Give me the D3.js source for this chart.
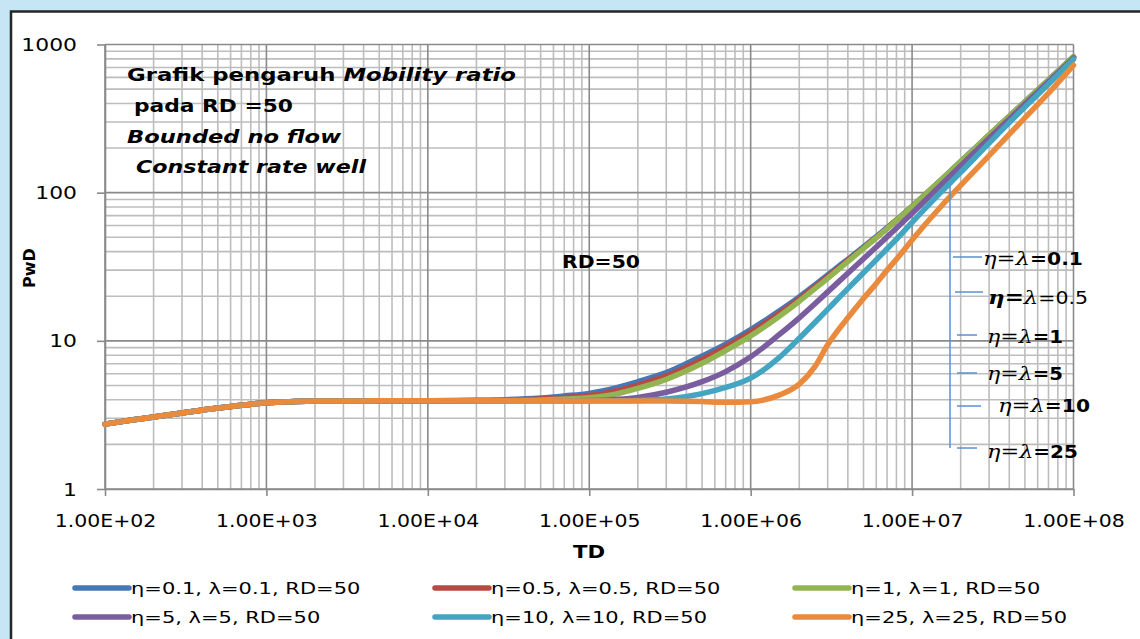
<!DOCTYPE html>
<head>
  <meta charset="utf-8">
  <script src="https://d3js.org/d3.v7.min.js"></script>
  <style>
    body { margin: 0; background: #c6e6f6; }
    svg { display: block; }
  </style>
</head>

<body>
<script type='text/javascript'>

  // dimensionless time grid shared by all series
  var td = [1e2, 1.5e2, 2e2, 3e2, 5e2, 7e2, 1e3, 1.5e3, 2e3, 3e3, 5e3, 1e4, 2e4, 3e4, 5e4, 7e4,
            1e5, 1.5e5, 2e5, 3e5, 5e5, 7e5, 1e6, 1.5e6, 2e6, 2.5e6, 3e6, 3.5e6, 4e6, 5e6, 6e6,
            7e6, 8e6, 1e7, 1.5e7, 2e7, 3e7, 5e7, 7e7, 1e8];

  // PwD, one array per eta = lambda
  var pwdEta01 = [2.74, 2.93, 3.06, 3.26, 3.52, 3.68, 3.82, 3.89, 3.92, 3.93, 3.935, 3.94, 3.97, 4.01, 4.12, 4.25,
                  4.42, 4.85, 5.3, 6.1, 7.9, 9.5, 11.9, 15.9, 19.8, 23.8, 27.8, 31.8, 35.5, 43, 50.5,
                  58, 65.5, 81, 121, 162, 245, 410, 575, 825];
  var pwdEta05 = [2.74, 2.93, 3.06, 3.26, 3.52, 3.68, 3.82, 3.89, 3.92, 3.93, 3.935, 3.94, 3.95, 3.97, 4.05, 4.14,
                  4.27, 4.6, 5.03, 5.8, 7.5, 9.1, 11.4, 15.3, 19.2, 23.2, 27.1, 31.1, 34.9, 42.4, 50,
                  57.5, 65, 80.5, 120.5, 161, 244, 409, 574, 824];
  var pwdEta1 = [2.74, 2.93, 3.06, 3.26, 3.52, 3.68, 3.82, 3.89, 3.92, 3.93, 3.935, 3.94, 3.94, 3.95, 3.99, 4.05,
                 4.13, 4.4, 4.78, 5.5, 7.05, 8.6, 10.8, 14.6, 18.5, 22.5, 26.4, 30.4, 34.3, 42, 49.6,
                 57.3, 65, 80.5, 121, 162, 245, 410, 575, 826];
  var pwdEta5 = [2.74, 2.93, 3.06, 3.26, 3.52, 3.68, 3.82, 3.89, 3.92, 3.93, 3.935, 3.94, 3.94, 3.94, 3.94, 3.94,
                 3.95, 4.03, 4.15, 4.5, 5.3, 6.2, 7.8, 11, 14.3, 17.8, 21.4, 25, 28.6, 35.8, 43,
                 50.3, 57.6, 72.5, 112, 152, 233, 396, 560, 812];
  var pwdEta10 = [2.74, 2.93, 3.06, 3.26, 3.52, 3.68, 3.82, 3.89, 3.92, 3.93, 3.935, 3.94, 3.94, 3.94, 3.94, 3.94,
                  3.94, 3.94, 3.96, 4.05, 4.4, 4.85, 5.6, 7.7, 10.4, 13.3, 16.3, 19.4, 22.5, 28.8, 35.2,
                  41.8, 48.5, 63, 100, 137, 216, 378, 541, 795];
  var pwdEta25 = [2.74, 2.93, 3.06, 3.26, 3.52, 3.68, 3.82, 3.89, 3.92, 3.93, 3.935, 3.94, 3.94, 3.94, 3.94, 3.93,
                  3.93, 3.93, 3.93, 3.92, 3.89, 3.85, 3.88, 4.3, 5.1, 6.7, 9.4, 11.9, 14.3, 19.3, 24.4,
                  30, 35.5, 48, 80, 112, 178, 320, 470, 725];

  var seriesNames = ["η=0.1, λ=0.1, RD=50", "η=0.5, λ=0.5, RD=50", "η=1, λ=1, RD=50",
                     "η=5, λ=5, RD=50", "η=10, λ=10, RD=50", "η=25, λ=25, RD=50"];
  var seriesValues = [pwdEta01, pwdEta05, pwdEta1, pwdEta5, pwdEta10, pwdEta25];
  var seriesColors = ["#4578b6", "#b84a45", "#92b552", "#7a5d9e", "#43a5c1", "#ea8a3c"];

  var xTicks = [1e2, 1e3, 1e4, 1e5, 1e6, 1e7, 1e8];
  var xTickLabels = ["1.00E+02", "1.00E+03", "1.00E+04", "1.00E+05", "1.00E+06", "1.00E+07", "1.00E+08"];
  var yTicks = [1, 10, 100, 1000];
  var yTickLabels = ["1", "10", "100", "1000"];
  var annotValues = ["0.1", "0.5", "1", "5", "10", "25"];

  var width = 1140, height = 639;
  var plot = { left: 105, right: 1073.5, top: 44.5, bottom: 489 };

  var svg = d3.select("body").append("svg")
    .attr("width", width)
    .attr("height", height);

  // white panel with dark frame
  svg.append("rect")
    .attr("x", 11).attr("y", 11.5)
    .attr("width", 1150).attr("height", 650)
    .attr("fill", "#fff")
    .attr("stroke", "#262626")
    .attr("stroke-width", 2.5);

  var x = d3.scaleLog().domain([1e2, 1e8]).range([plot.left, plot.right]);
  var y = d3.scaleLog().domain([1, 1000]).range([plot.bottom, plot.top]);

  // gridlines
  var xMinor = [], yMinor = [];
  xTicks.slice(0, -1).forEach(function(d) { for (var k = 2; k < 10; k++) xMinor.push(d * k); });
  yTicks.slice(0, -1).forEach(function(d) { for (var k = 2; k < 10; k++) yMinor.push(d * k); });

  var grid = svg.append("g").attr("stroke-width", 1.6);
  grid.selectAll(".vmin").data(xMinor).enter().append("line")
    .attr("x1", d => x(d)).attr("x2", d => x(d))
    .attr("y1", plot.top).attr("y2", plot.bottom)
    .attr("stroke", "#bdbdbd");
  grid.selectAll(".hmin").data(yMinor).enter().append("line")
    .attr("y1", d => y(d)).attr("y2", d => y(d))
    .attr("x1", plot.left).attr("x2", plot.right)
    .attr("stroke", "#bdbdbd");
  grid.selectAll(".vmaj").data(xTicks).enter().append("line")
    .attr("x1", d => x(d)).attr("x2", d => x(d))
    .attr("y1", plot.top).attr("y2", plot.bottom)
    .attr("stroke", "#8a8a8a");
  grid.selectAll(".hmaj").data(yTicks).enter().append("line")
    .attr("y1", d => y(d)).attr("y2", d => y(d))
    .attr("x1", plot.left).attr("x2", plot.right)
    .attr("stroke", "#8a8a8a");

  // axes
  var yAxis = svg.append("g")
    .attr("transform", "translate(" + plot.left + ",0)")
    .call(d3.axisLeft(y).tickValues(yTicks).tickFormat((d, i) => yTickLabels[i]).tickSize(8).tickSizeOuter(0));
  yAxis.selectAll("text")
    .attr("x", 0).attr("dy", null)
    .attr("transform", "translate(-28,6) scale(1.25,1)")
    .attr("text-anchor", "end");

  var xAxis = svg.append("g")
    .attr("transform", "translate(0," + plot.bottom + ")")
    .call(d3.axisBottom(x).tickValues(xTicks).tickFormat((d, i) => xTickLabels[i]).tickSize(7).tickSizeOuter(0));
  xAxis.selectAll("text")
    .attr("y", 0).attr("dy", null)
    .attr("transform", "translate(0,38) scale(1.17,1)");

  [yAxis, xAxis].forEach(function(a) {
    a.selectAll("path, line").attr("stroke", "#8a8a8a").attr("stroke-width", 1.6);
    a.selectAll("text").attr("fill", "#000")
      .style("font-family", "DejaVu Sans").style("font-size", "17.5px");
  });

  // curves
  var line = d3.line()
    .x((d, i) => x(td[i]))
    .y(d => y(d))
    .curve(d3.curveMonotoneX);

  svg.append("g").selectAll("path")
    .data(seriesValues).enter().append("path")
    .attr("d", line)
    .attr("fill", "none")
    .attr("stroke", (d, i) => seriesColors[i])
    .attr("stroke-width", 5.5)
    .attr("stroke-linejoin", "round")
    .attr("stroke-linecap", "round");

  // title block
  var title = svg.append("g")
    .style("font-family", "DejaVu Sans")
    .style("font-weight", "bold")
    .style("font-size", "18px");
  var t1 = title.append("text").attr("x", 127).attr("y", 81)
    .attr("textLength", 389).attr("lengthAdjust", "spacingAndGlyphs");
  t1.append("tspan").text("Grafik pengaruh ");
  t1.append("tspan").style("font-style", "italic").text("Mobility ratio");
  title.append("text").attr("x", 134).attr("y", 112)
    .attr("textLength", 159).attr("lengthAdjust", "spacingAndGlyphs")
    .text("pada RD =50");
  title.append("text").attr("x", 127).attr("y", 143)
    .attr("textLength", 214).attr("lengthAdjust", "spacingAndGlyphs")
    .style("font-style", "italic").text("Bounded no flow");
  title.append("text").attr("x", 136).attr("y", 173)
    .attr("textLength", 230).attr("lengthAdjust", "spacingAndGlyphs")
    .style("font-style", "italic").text("Constant rate well");

  svg.append("text").attr("x", 562).attr("y", 268)
    .attr("textLength", 78).attr("lengthAdjust", "spacingAndGlyphs")
    .style("font-family", "DejaVu Sans").style("font-weight", "bold").style("font-size", "18px")
    .text("RD=50");

  // axis titles
  svg.append("text")
    .attr("transform", "translate(589,558) scale(1.25,1)")
    .attr("text-anchor", "middle")
    .style("font-family", "DejaVu Sans").style("font-weight", "bold").style("font-size", "17px")
    .text("TD");
  svg.append("text")
    .attr("transform", "translate(35,268) rotate(-90)")
    .attr("text-anchor", "middle")
    .style("font-family", "DejaVu Sans").style("font-weight", "bold").style("font-size", "16px")
    .text("PwD");

  // right-hand annotation with bracket
  var annColor = "#5b8fcf";
  svg.append("line").attr("x1", 950).attr("x2", 950).attr("y1", 185).attr("y2", 448)
    .attr("stroke", annColor).attr("stroke-width", 1.5);
  var annTicks = [[953, 982, 257], [955, 983, 292], [957, 977, 335], [957, 977, 373], [957, 981, 406], [957, 977, 448]];
  var annText = [[983, 265, 100], [988, 304, 100], [987, 343, 76], [987, 380, 76], [998, 412, 92], [987, 458, 91]];
  annTicks.forEach(function(t) {
    svg.append("line").attr("x1", t[0]).attr("x2", t[1]).attr("y1", t[2]).attr("y2", t[2])
      .attr("stroke", annColor).attr("stroke-width", 1.5);
  });
  annotValues.forEach(function(v, i) {
    var p = annText[i];
    var t = svg.append("text").attr("x", p[0]).attr("y", p[1])
      .attr("textLength", p[2]).attr("lengthAdjust", "spacingAndGlyphs")
      .style("font-size", "19px");
    var serif = "DejaVu Serif";
    t.append("tspan").style("font-family", serif).style("font-style", "italic")
      .style("font-weight", i === 1 ? "bold" : "normal").text("η");
    t.append("tspan").style("font-family", i === 1 ? "DejaVu Sans" : serif)
      .style("font-weight", i === 1 ? "bold" : "normal").text("=");
    t.append("tspan").style("font-family", serif).style("font-style", "italic").text("λ");
    t.append("tspan").style("font-family", "DejaVu Sans").style("font-size", "17px")
      .style("font-weight", i === 1 ? "normal" : "bold").text("=" + v);
  });

  // legend
  var legCols = [73, 433, 793], legRows = [588, 617];
  var legend = svg.append("g").selectAll("g")
    .data(seriesNames).enter().append("g")
    .attr("transform", (d, i) => "translate(" + legCols[i % 3] + "," + legRows[Math.floor(i / 3)] + ")");
  legend.append("line")
    .attr("x1", 2).attr("x2", 56)
    .attr("stroke", (d, i) => seriesColors[i])
    .attr("stroke-width", 5.5)
    .attr("stroke-linecap", "round");
  legend.append("text")
    .attr("transform", "translate(58,5.5) scale(1.4,1)")
    .style("font-family", "DejaVu Sans").style("font-size", "15px")
    .text(d => d);

</script>
</body>
